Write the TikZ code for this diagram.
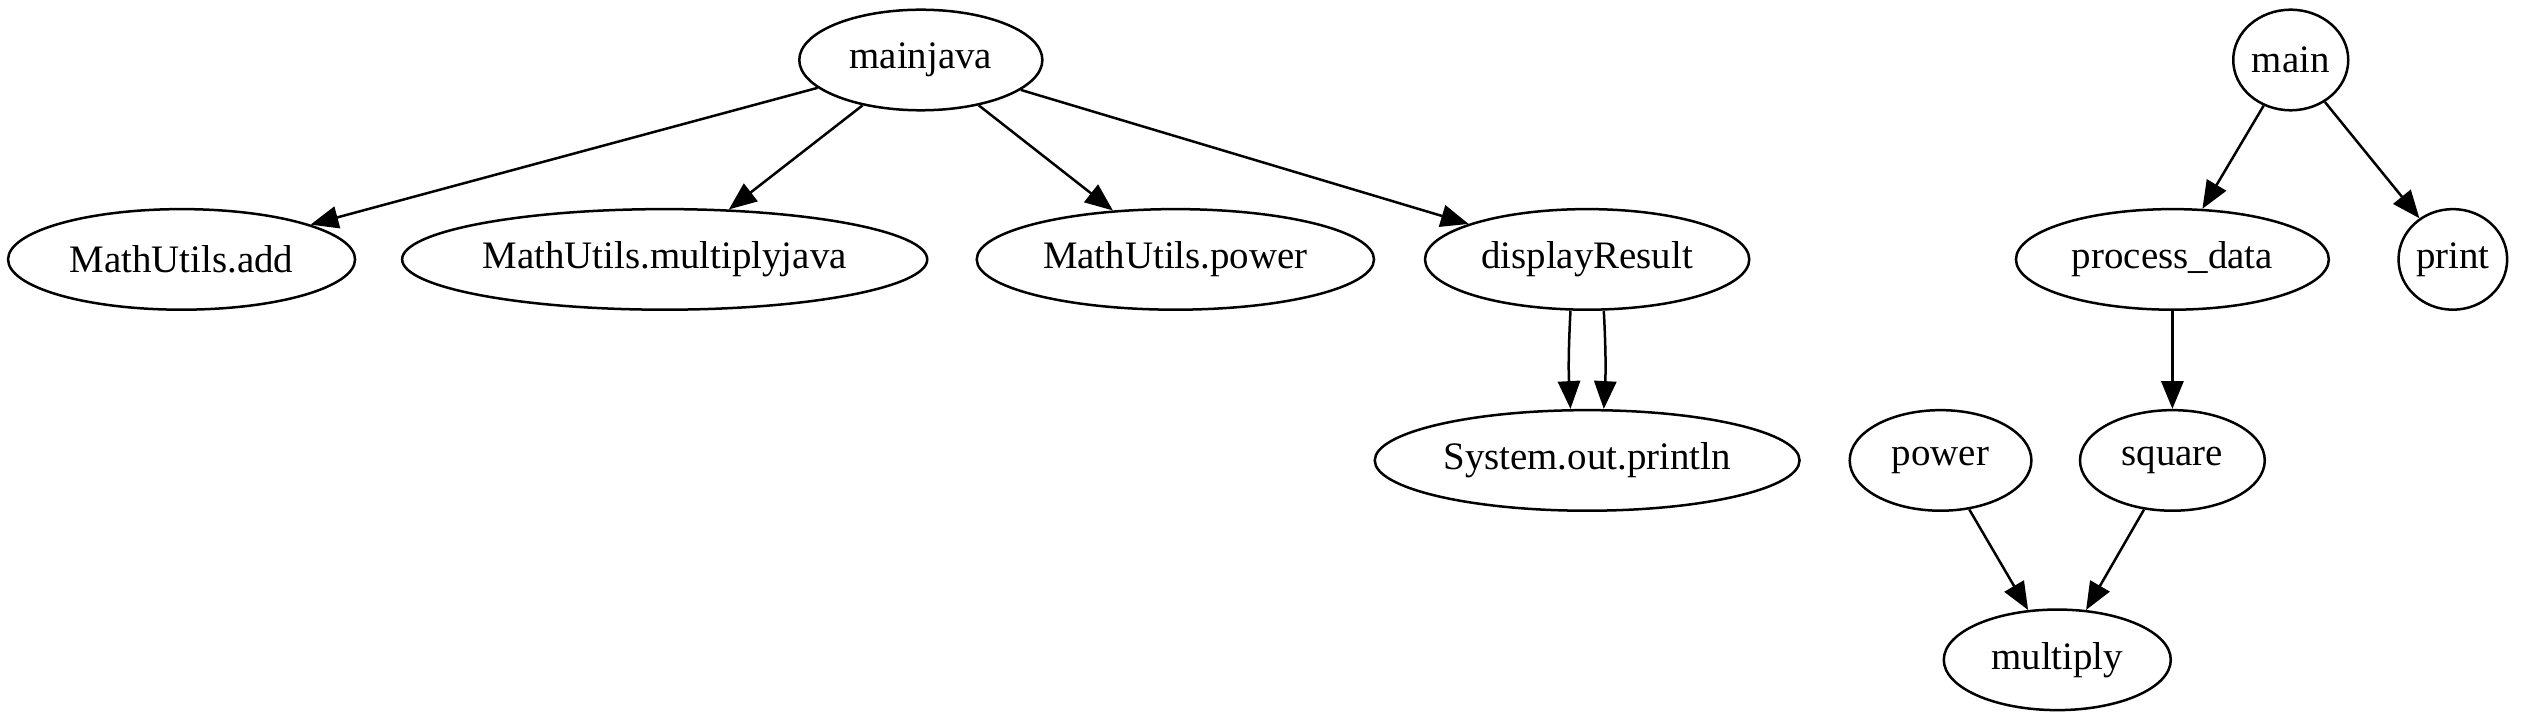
\documentclass[tikz,border=0pt]{standalone}
\usepackage{fontspec}
\setmainfont{Liberation Serif}
\usetikzlibrary{arrows.meta,shapes.geometric}

\tikzset{
  fn/.style={draw, ellipse, line width=0.9pt, inner xsep=-10pt, inner ysep=0pt,
    minimum height=36.2pt, font=\fontsize{14}{16}\selectfont},
  call/.style={line width=0.9pt, -{Triangle[length=10pt,width=8pt]}}
}

\begin{document}
\begin{tikzpicture}[x=0.5835pt, y=-0.5835pt]

\useasboundingbox (0,0) rectangle (1568,445);

% Grafo de mainjava
\node[fn, minimum width=87.5pt] (mainjava) at (568,37) {mainjava};
\node[fn, minimum width=124.9pt] (add) at (112,160) {MathUtils.add};
\node[fn, minimum width=189pt] (mult) at (410,160) {MathUtils.multiplyjava};
\node[fn, minimum width=143pt] (mpow) at (725,160) {MathUtils.power};
\node[fn, minimum width=116.7pt] (disp) at (979,160) {displayResult};
\node[fn, minimum width=152.9pt] (sop) at (979,284) {System.out.println};

\draw[call] (mainjava) -- (add);
\draw[call] (mainjava) -- (mult);
\draw[call] (mainjava) -- (mpow);
\draw[call] (mainjava) -- (disp);

% Dos llamadas a println
\draw[call] ([xshift=-6pt]disp.south) to[bend right=3] ([xshift=-6pt]sop.north);
\draw[call] ([xshift=6pt]disp.south) to[bend left=3] ([xshift=6pt]sop.north);

% Grafo de main
\node[fn, minimum width=41.4pt] (main) at (1413,37) {main};
\node[fn, minimum width=112.6pt] (proc) at (1340,160) {process\_data};
\node[fn, minimum width=39.1pt] (print) at (1513,160) {print};
\node[fn, minimum width=65.4pt] (power) at (1197,284) {power};
\node[fn, minimum width=66.5pt] (square) at (1340,284) {square};
\node[fn, minimum width=81.7pt] (multiply) at (1269,407) {multiply};

\draw[call] (main) -- (proc);
\draw[call] (main) -- (print);
\draw[call] (proc) -- (square);
\draw[call] (power) -- (multiply);
\draw[call] (square) -- (multiply);

\end{tikzpicture}
\end{document}
